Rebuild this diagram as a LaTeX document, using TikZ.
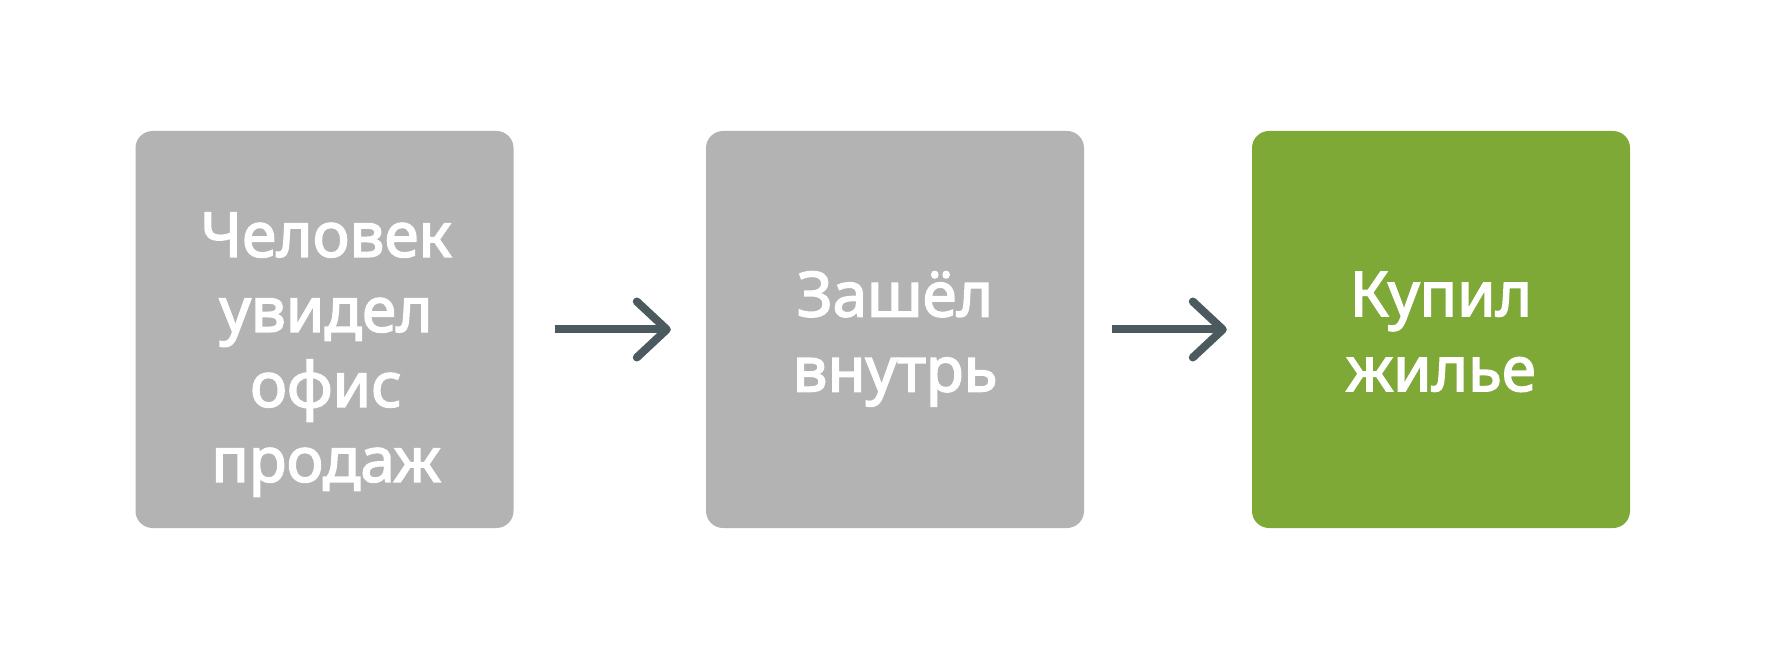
\documentclass[tikz,border=0pt]{standalone}
\usepackage{fontspec}
\setmainfont{Noto Sans}[FakeBold=2.5]
\usetikzlibrary{arrows.meta}
\definecolor{boxgray}{HTML}{B3B3B3}
\definecolor{boxgreen}{HTML}{7FA937}
\definecolor{arrowcol}{HTML}{4B5A5E}
\newcommand{\topstrut}{\rule{0pt}{40pt}}
\newcommand{\botstrut}{\rule[-40pt]{0pt}{0pt}}
\tikzset{
  stepbox/.style={fill=boxgray, rounded corners=17pt, minimum width=378pt, minimum height=397pt,
    inner sep=0pt},
  steplabel/.style={inner sep=0pt, text=white, align=center, font=\fontsize{62}{75}\selectfont},
  flowarrow/.style={draw=arrowcol, line width=8pt,
    -{Straight Barb[length=30pt, width=56pt, line cap=round, line join=round]}}
}
\begin{document}
\begin{tikzpicture}[x=1pt,y=1pt]
\useasboundingbox (0,0) rectangle (1766,659);
\node[stepbox] (b1) at (324.5,329.5) {};
\node[stepbox] (b2) at (895,329.5) {};
\node[stepbox, fill=boxgreen] (b3) at (1441,329.5) {};
\node[steplabel] (t1) at (326,291.8) {\topstrut Человек\\увидел\\офис\\продаж\botstrut};
\node[steplabel] (t2) at (895,307.5) {\topstrut Зашёл\\внутрь\botstrut};
\node[steplabel] (t3) at (1441,307.5) {\topstrut Купил\\жилье\botstrut};
\draw[flowarrow, shorten <=41pt, shorten >=35pt] (b1) -- (b2);
\draw[flowarrow, shorten <=28pt, shorten >=25pt] (b2) -- (b3);
\end{tikzpicture}
\end{document}
